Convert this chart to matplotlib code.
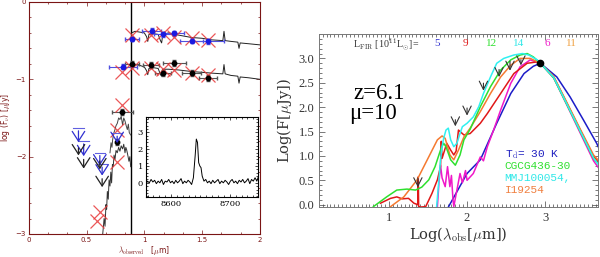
import matplotlib
matplotlib.use("Agg")
import matplotlib.pyplot as plt
from matplotlib.ticker import MultipleLocator

plt.rcParams['mathtext.fontset'] = 'cm'

# ---------------- Left panel data ----------------
lya_x = [0.888, 0.888]
lya_y = [0.0, -3.0]

up_x = [0.89, 0.92, 0.96, 1.00, 1.02, 1.03, 1.04, 1.08, 1.12, 1.14, 1.15, 1.16, 1.21, 1.30,
        1.41, 1.50, 1.58, 1.68, 1.69, 1.70, 1.75, 1.81, 1.82, 1.83, 1.90, 2.00]
up_y = [-0.40, -0.38, -0.39, -0.40, -0.45, -0.51, -0.42, -0.41, -0.42, -0.50, -0.53, -0.42, -0.40, -0.43,
        -0.46, -0.47, -0.49, -0.50, -0.38, -0.50, -0.51, -0.52, -0.60, -0.53, -0.54, -0.555]
lo_x = [0.89, 0.92, 0.96, 1.00, 1.02, 1.03, 1.04, 1.08, 1.12, 1.14, 1.15, 1.16, 1.21, 1.30,
        1.41, 1.50, 1.58, 1.68, 1.69, 1.70, 1.75, 1.81, 1.82, 1.83, 1.90, 2.00]
lo_y = [-0.85, -0.81, -0.82, -0.84, -0.89, -0.94, -0.86, -0.85, -0.86, -0.94, -0.96, -0.87, -0.87, -0.88,
        -0.90, -0.91, -0.92, -0.93, -0.81, -0.93, -0.95, -0.96, -1.05, -0.97, -0.98, -1.00]
fa_x = [0.640, 0.652, 0.660, 0.668, 0.674, 0.680, 0.688, 0.695, 0.703, 0.710, 0.717, 0.724, 0.731,
        0.738, 0.746, 0.755, 0.766, 0.778, 0.789, 0.800, 0.812, 0.822, 0.833, 0.840, 0.847, 0.857, 0.867, 0.875, 0.882]
fa_y = [-3.00, -2.80, -2.90, -2.62, -2.68, -2.45, -2.55, -2.30, -2.38, -2.20, -2.34, -2.10, -2.13,
        -1.98, -2.04, -1.92, -1.95, -1.88, -1.93, -1.86, -1.90, -1.84, -1.95, -1.88, -1.91, -1.98, -2.06, -2.00, -2.13]
fb_x = [0.703, 0.712, 0.720, 0.726, 0.735, 0.746, 0.755, 0.766, 0.778, 0.789, 0.800, 0.812,
        0.822, 0.833, 0.843, 0.853, 0.862, 0.870, 0.882]
fb_y = [-1.95, -1.82, -1.88, -1.78, -1.70, -1.65, -1.60, -1.57, -1.50, -1.52, -1.48, -1.59,
        -1.50, -1.54, -1.60, -1.65, -1.58, -1.69, -1.72]

blue_x = [0.896, 1.064, 1.165, 1.258, 1.41, 1.55, 0.815]
blue_y = [-0.48, -0.37, -0.417, -0.405, -0.50, -0.51, -0.835]
blue_xerr = [0.06, 0.08, 0.08, 0.09, 0.10, 0.14, 0.12]
black_x = [0.896, 1.058, 1.165, 1.258, 1.41, 1.55, 0.808, 0.765]
black_y = [-0.80, -0.82, -0.917, -0.79, -0.917, -0.985, -1.42, -1.81]
black_xerr = [0.06, 0.07, 0.07, 0.10, 0.08, 0.08, 0.09, 0.0]
red_x = [0.89, 1.06, 1.165, 1.258, 1.41, 1.55, 0.89, 1.06, 1.165, 1.258, 1.41, 1.55,
         0.804, 0.808, 0.765, 0.765, 0.615, 0.59]
red_y = [-0.43, -0.43, -0.40, -0.45, -0.47, -0.49, -0.86, -0.86, -0.87, -0.88, -0.92, -0.94,
         -0.90, -1.33, -1.66, -2.07, -2.72, -2.83]
ulb_x = [0.43, 0.475, 0.615, 0.635, 0.765]
ulb_top = [-1.63, -1.80, -1.95, -2.10, -1.70]
ulb_tip = [-1.85, -2.03, -2.15, -2.28, -1.86]
ulk_x = [0.43, 0.475, 0.615, 0.635]
ulk_top = [-1.85, -2.00, -2.02, -2.25]
ulk_tip = [-2.02, -2.19, -2.20, -2.43]

ins_x = [8557, 8560, 8563, 8566, 8569, 8572, 8575, 8578, 8581, 8584, 8587, 8590, 8593, 8596, 8599,
         8602, 8605, 8608, 8611, 8614, 8617, 8620, 8623, 8626, 8629, 8632, 8635, 8638, 8641, 8643,
         8645, 8647, 8649, 8651, 8653, 8656, 8659, 8662, 8665, 8668, 8671, 8674, 8677, 8680, 8683,
         8686, 8689, 8692, 8695, 8698, 8701, 8704, 8707, 8710, 8713, 8716, 8719, 8722, 8725, 8728,
         8731, 8734, 8737, 8740, 8743, 8746, 8749]
ins_y = [-0.1, 0.1, 0.0, 0.2, 0.05, 0.15, -0.05, 0.1, 0.0, 0.2, -0.1, 0.1, 0.05, 0.2, 0.0,
         0.1, -0.05, 0.15, 0.0, 0.1, 0.25, -0.05, 0.1, 0.0, 0.15, 0.05, -0.1, 0.3, 1.6, 2.6,
         2.4, 1.2, 1.0, 0.9, 0.4, 0.1, 0.2, 0.0, 0.1, -0.05, 0.15, 0.0, 0.1, 0.2, -0.05,
         0.1, 0.0, 0.15, 0.05, -0.1, 0.1, 0.2, 0.0, 0.1, -0.05, 0.15, 0.05, 0.2, 0.0, 0.1,
         0.25, -0.05, 0.2, 0.1, 0.3, 0.1, 0.4]

# ---------------- Right panel data ----------------
blue_sx = [1.76, 2.00, 2.17, 2.38, 2.56, 2.73, 2.85, 2.94, 3.15, 3.32, 3.49, 3.66, 3.70]
blue_sy = [-0.05, 0.64, 0.92, 1.67, 2.28, 2.69, 2.84, 2.90, 2.62, 2.21, 1.74, 1.26, 1.12]
green_sx = [0.80, 0.97, 1.10, 1.23, 1.34, 1.42, 1.51, 1.59, 1.66, 1.70, 1.73, 1.79, 1.85, 1.91, 1.96,
            2.04, 2.17, 2.30, 2.43, 2.56, 2.68, 2.77, 2.85, 2.94, 3.11, 3.28, 3.45, 3.62, 3.70]
green_sy = [-0.04, 0.16, 0.30, 0.32, 0.30, 0.36, 0.51, 0.78, 1.12, 1.26, 1.19, 0.92, 0.81, 1.02, 1.33,
            1.55, 2.01, 2.42, 2.76, 2.97, 3.07, 3.10, 3.03, 2.90, 2.60, 2.05, 1.50, 0.95, 0.80]
cyan_sx = [1.61, 1.64, 1.66, 1.68, 1.70, 1.73, 1.76, 1.79, 1.83, 1.87, 1.91, 1.94, 2.00, 2.08, 2.15,
           2.21, 2.30, 2.38, 2.47, 2.60, 2.71, 2.79, 2.90, 2.94, 3.11, 3.28, 3.45, 3.62, 3.70]
cyan_sy = [-0.04, 0.51, 0.92, 1.19, 1.36, 1.53, 1.57, 1.33, 1.19, 1.26, 1.46, 1.60, 1.67, 1.80, 2.01,
           2.28, 2.62, 2.90, 3.00, 3.07, 3.10, 3.07, 2.97, 2.90, 2.61, 2.06, 1.51, 0.96, 0.78]
orange_sx = [1.02, 1.19, 1.36, 1.49, 1.62, 1.68, 1.72, 1.78, 1.83, 1.89, 1.96, 2.04, 2.17, 2.30,
             2.43, 2.56, 2.68, 2.81, 2.94, 3.11, 3.28, 3.45, 3.62, 3.70]
orange_sy = [-0.04, 0.16, 0.51, 0.92, 1.33, 1.41, 1.36, 1.02, 0.92, 1.12, 1.39, 1.57, 1.91, 2.28,
             2.62, 2.86, 3.00, 3.00, 2.90, 2.63, 2.09, 1.55, 1.02, 0.88]
red_sx = [0.89, 1.02, 1.10, 1.17, 1.25, 1.32, 1.37, 1.375, 1.38, 1.385, 1.47, 1.55, 1.62, 1.66, 1.67,
          1.68, 1.74, 1.79, 1.83, 1.86, 1.89, 1.96, 2.04, 2.17, 2.26, 2.43, 2.60, 2.77, 2.90, 2.94,
          3.11, 3.28, 3.45, 3.62, 3.70]
red_sy = [0.03, 0.13, 0.16, 0.12, 0.13, 0.03, 0.00, 0.57, -0.05, -0.05, -0.04, 0.23, 0.51, 0.78, 1.30,
          0.95, 1.26, 1.12, 1.02, 1.10, 1.53, 1.43, 1.46, 1.67, 1.87, 2.28, 2.69, 2.90, 2.93, 2.90,
          2.62, 2.08, 1.53, 0.99, 0.85]
mag_sx = [1.62, 1.64, 1.66, 1.68, 1.72, 1.75, 1.78, 1.80, 1.82, 1.83, 1.87, 1.91, 1.94, 1.96, 1.98,
          2.00, 2.08, 2.17, 2.21, 2.26, 2.34, 2.43, 2.56, 2.68, 2.81, 2.94, 3.11, 3.28, 3.45, 3.62, 3.70]
mag_sy = [-0.04, 0.45, 0.81, 0.55, 0.37, 0.78, 0.37, 0.60, 0.10, -0.04, 0.30, 0.64, 0.45, 0.57, 0.70,
          0.50, 0.64, 0.98, 0.90, 1.19, 1.53, 1.94, 2.49, 2.83, 2.97, 2.90, 2.60, 2.04, 1.47, 0.90, 0.72]
dot_x = [2.94]
dot_y = [2.90]
arr_x = [1.37, 1.85, 2.00, 2.21, 2.41, 2.55, 2.69]
arr_top = [0.60, 1.80, 2.04, 2.55, 2.83, 3.00, 3.03]
arr_tip = [0.30, 1.55, 1.77, 2.28, 2.56, 2.69, 2.80]
lfir_vals = ['5', '9', '12', '14', '6', '11']
legend_lines = ['T$_{\\rm d}$= 30 K', 'CGCG436-30', 'MMJ100054,', 'I19254']

# ---------------- Figure ----------------
fig = plt.figure(figsize=(6.0, 2.57), dpi=100)
maroon = '#7a1515'

axL = fig.add_axes([0.048, 0.0895, 0.385, 0.903])
axL.plot(lya_x, lya_y, color='black', lw=1.0)
axL.plot(up_x, up_y, color='#222222', lw=0.7)
axL.plot(lo_x, lo_y, color='#222222', lw=0.7)
axL.plot(fa_x, fa_y, color='#333333', lw=0.7)
axL.plot(fb_x, fb_y, color='#444444', lw=0.7)
axL.errorbar(black_x, black_y, xerr=black_xerr, yerr=0.04, fmt='o', color='black',
             ecolor='#555555', ms=3.2, elinewidth=0.8, capsize=1.5)
axL.errorbar(blue_x, blue_y, xerr=blue_xerr, yerr=0.03, fmt='o', color='#1a1ae0',
             ecolor='#5050e0', ms=3.2, elinewidth=0.8, capsize=1.5)
axL.plot(red_x, red_y, 'x', color='#e8393a', ms=10, mew=0.9, alpha=0.85)
for x, t, tp in zip(ulb_x, ulb_top, ulb_tip):
    axL.plot([x - 0.045, x + 0.045], [t, t], color='#6060e0', lw=0.8)
    axL.annotate('', xy=(x, tp), xytext=(x, t),
                 arrowprops=dict(arrowstyle='->,head_width=0.45,head_length=0.7', color='#3030d0', lw=0.9))
for x, t, tp in zip(ulk_x, ulk_top, ulk_tip):
    axL.annotate('', xy=(x, tp), xytext=(x, t),
                 arrowprops=dict(arrowstyle='->,head_width=0.45,head_length=0.7', color='#222222', lw=0.9))
axL.set_xlim(0, 2)
axL.set_ylim(-3, 0)
axL.set_xticks([0, 0.5, 1, 1.5, 2])
axL.set_xticklabels(['0', '0.5', '1', '1.5', '2'])
axL.set_yticks([-3, -2, -1, 0])
axL.set_yticklabels(['\u22123', '\u22122', '\u22121', '0'])
axL.xaxis.set_minor_locator(MultipleLocator(0.5 / 3))
axL.yaxis.set_minor_locator(MultipleLocator(0.2))
axL.tick_params(which='both', direction='in', top=True, right=True, colors=maroon,
                labelsize=5, length=3, width=0.5, pad=2)
axL.tick_params(which='minor', length=1.5)
for s in axL.spines.values():
    s.set_color(maroon)
    s.set_linewidth(0.8)
axL.set_xlabel(r'$\lambda_{\rm observed}$   [$\mu$m]', fontsize=5.5, color=maroon)
axL.xaxis.set_label_coords(0.5, -0.045)
axL.set_ylabel(r'log (F$_\nu$) [$\mu$Jy]', fontsize=5.5, color=maroon)
axL.yaxis.set_label_coords(-0.072, 0.5)

axI = fig.add_axes([0.243, 0.233, 0.187, 0.311])
axI.plot(ins_x, ins_y, color='black', lw=0.7)
axI.set_xlim(8557, 8748)
axI.set_ylim(-0.85, 3.9)
axI.set_xticks([8600, 8700])
axI.set_yticks([0, 1, 2, 3])
axI.xaxis.set_minor_locator(MultipleLocator(10))
axI.yaxis.set_minor_locator(MultipleLocator(0.2))
axI.tick_params(which='both', direction='in', top=True, right=True, labelsize=6, length=2.5, width=0.5, pad=2)
axI.tick_params(which='minor', length=1.2)
for lab in axI.get_xticklabels() + axI.get_yticklabels():
    lab.set_family('DejaVu Serif')

# right panel
axR = fig.add_axes([0.532, 0.1946, 0.465, 0.673])
axR.plot(blue_sx, blue_sy, color='#1c1cc8', lw=1.1)
axR.plot(mag_sx, mag_sy, color='#f018c8', lw=1.1)
axR.plot(red_sx, red_sy, color='#e01818', lw=1.1)
axR.plot(orange_sx, orange_sy, color='#f57a30', lw=1.1)
axR.plot(green_sx, green_sy, color='#2ee02e', lw=1.1)
axR.plot(cyan_sx, cyan_sy, color='#30f0f0', lw=1.1)
axR.plot(dot_x, dot_y, 'o', color='black', ms=4.5)
for x, t, tp in zip(arr_x, arr_top, arr_tip):
    axR.annotate('', xy=(x, tp), xytext=(x, t),
                 arrowprops=dict(arrowstyle='->,head_width=0.3,head_length=0.6', color='#333333', lw=0.8))
axR.set_xlim(0.106, 3.68)
axR.set_ylim(-0.047, 3.50)
axR.set_xticks([1, 2, 3])
axR.set_yticks([0, 0.5, 1.0, 1.5, 2.0, 2.5, 3.0])
axR.set_yticklabels(['0.0', '0.5', '1.0', '1.5', '2.0', '2.5', '3.0'])
axR.xaxis.set_minor_locator(MultipleLocator(0.05))
axR.yaxis.set_minor_locator(MultipleLocator(0.1))
axR.tick_params(which='both', direction='in', top=True, right=True, labelsize=9, length=4,
                width=0.5, colors='#444444', labelcolor='#333333')
axR.tick_params(which='minor', length=2)
for lab in axR.get_xticklabels() + axR.get_yticklabels():
    lab.set_family('Liberation Serif')
for s in axR.spines.values():
    s.set_color('#777777')
    s.set_linewidth(0.7)
axR.set_xlabel(r'Log($\lambda_{\rm obs}$[$\mu$m])', fontsize=10.5, color='#333333', labelpad=1,
               family='DejaVu Serif')
axR.set_ylabel(r'Log(F[$\mu$Jy])', fontsize=10.5, color='#333333', labelpad=3, family='DejaVu Serif')

axR.text(0.54, 2.17, 'z=6.1', fontsize=16.5, family='Liberation Serif', color='black')
axR.text(0.49, 1.76, '\u03bc=10', fontsize=16.5, family='Liberation Serif', color='black')

axR.text(0.545, 3.30, r'L$_{\rm FIR}$ [10$^{11}$L$_{\odot}$]=', fontsize=7.2, family='Liberation Serif',
         color='#333333', va='center')
lfir_cols = ['#3030d0', '#e02020', '#30e030', '#30e8e8', '#f018c8', '#f0a040']
lfir_pos = [1.61, 1.98, 2.32, 2.66, 3.03, 3.34]
for v, c, p in zip(lfir_vals, lfir_cols, lfir_pos):
    axR.text(p, 3.30, v, fontsize=8, family='Liberation Serif', color=c, va='center', ha='center')

leg_cols = ['#2020c0', '#30e030', '#30e8e8', '#f08040']
leg_y = [1.02, 0.79, 0.55, 0.30]
for t, c, yy in zip(legend_lines, leg_cols, leg_y):
    axR.text(2.48, yy, t, fontsize=8, family='Liberation Mono', color=c, va='center')

fig.savefig('out.png', dpi=100)
